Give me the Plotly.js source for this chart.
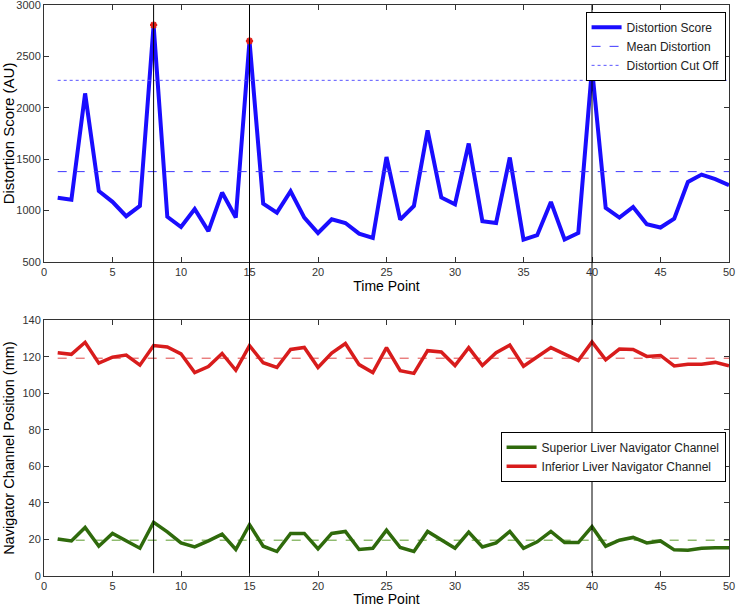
<!DOCTYPE html>
<html>
<head>
<meta charset="utf-8">
<script src="https://cdn.plot.ly/plotly-3.0.1.min.js"></script>
<style>
  html, body { margin: 0; padding: 0; background: #fff; }
  #chart { width: 738px; height: 607px; }
</style>
</head>
<body>
<div id="chart"></div>
<script>
const timePoints = [1, 2, 3, 4, 5, 6, 7, 8, 9, 10, 11, 12, 13, 14, 15, 16, 17, 18, 19, 20,
  21, 22, 23, 24, 25, 26, 27, 28, 29, 30, 31, 32, 33, 34, 35, 36, 37, 38, 39, 40,
  41, 42, 43, 44, 45, 46, 47, 48, 49, 50];

const distortionScore = [1125, 1105, 2140, 1190, 1085, 945, 1045, 2805, 940, 840,
  1015, 800, 1175, 932, 2650, 1068, 980, 1188, 932, 782,
  915, 879, 776, 733, 1521, 912, 1045, 1781, 1127, 1061,
  1652, 896, 879, 1516, 718, 760, 1084, 718, 782, 2385,
  1025, 932, 1035, 867, 835, 922, 1278, 1350, 1305, 1246];

const meanDistortion = 1379;
const distortionCutOff = 2267;

const peakTimes = [8, 15, 40];
const peakScores = [2805, 2650, 2385];

const superiorChannel = [20.3, 19.2, 26.6, 16.3, 23.3, 19.2, 15.2, 29.4, 24.2, 18.1,
  15.9, 19.2, 22.9, 14.5, 28.1, 16.3, 13.4, 23.3, 23.3, 14.8,
  23.3, 24.4, 14.5, 15.2, 25.1, 15.6, 13.4, 24.4, 20.0, 15.2,
  24.0, 15.9, 18.1, 24.4, 15.2, 18.7, 24.4, 18.3, 18.3, 27.0,
  16.3, 19.6, 21.1, 18.1, 19.2, 14.3, 14.1, 15.2, 15.4, 15.4];

const inferiorChannel = [122.2, 121.3, 127.9, 116.5, 119.8, 120.9, 115.4, 126.1, 125.3, 121.6,
  111.3, 114.6, 121.8, 112.6, 126.1, 116.7, 114.1, 124.0, 125.1, 114.1,
  122.0, 127.2, 115.7, 111.3, 125.0, 112.4, 110.9, 123.3, 122.6, 115.2,
  125.0, 115.2, 122.2, 126.4, 114.8, 120.0, 125.0, 121.4, 117.9, 128.1,
  118.3, 124.2, 124.0, 120.2, 120.7, 115.0, 115.9, 115.9, 116.9, 115.0];

const superiorMean = 19.6;
const inferiorMean = 119.2;

const markedTimes = [8, 15, 40];

const FONT = "Liberation Sans, Arial, sans-serif";
const first = timePoints[0];
const last = timePoints[timePoints.length - 1];

const traces = [
  {
    type: "scatter", mode: "lines",
    x: timePoints, y: distortionScore,
    name: "Distortion Score",
    line: { color: "#1a0dff", width: 4 },
    xaxis: "x", yaxis: "y", legend: "legend",
  },
  {
    type: "scatter", mode: "lines",
    x: [first, last], y: [meanDistortion, meanDistortion],
    name: "Mean Distortion",
    line: { color: "#3d35ff", width: 1, dash: "dash" },
    xaxis: "x", yaxis: "y", legend: "legend",
  },
  {
    type: "scatter", mode: "lines",
    x: [first, last], y: [distortionCutOff, distortionCutOff],
    name: "Distortion Cut Off",
    line: { color: "#5a55ff", width: 1, dash: "dot" },
    xaxis: "x", yaxis: "y", legend: "legend",
  },
  {
    type: "scatter", mode: "markers",
    x: peakTimes, y: peakScores,
    marker: { symbol: "asterisk-open", size: 6, color: "#e0201a", line: { color: "#e0201a", width: 2 } },
    showlegend: false, hoverinfo: "skip",
    xaxis: "x", yaxis: "y",
  },
  {
    type: "scatter", mode: "lines",
    x: [first, last], y: [superiorMean, superiorMean],
    line: { color: "#5a9a2a", width: 1, dash: "dash" },
    showlegend: false, xaxis: "x2", yaxis: "y2",
  },
  {
    type: "scatter", mode: "lines",
    x: [first, last], y: [inferiorMean, inferiorMean],
    line: { color: "#e04545", width: 1, dash: "dash" },
    showlegend: false, xaxis: "x2", yaxis: "y2",
  },
  {
    type: "scatter", mode: "lines",
    x: timePoints, y: superiorChannel,
    name: "Superior Liver Navigator Channel",
    line: { color: "#2f6a0c", width: 3.5 },
    xaxis: "x2", yaxis: "y2", legend: "legend2",
  },
  {
    type: "scatter", mode: "lines",
    x: timePoints, y: inferiorChannel,
    name: "Inferior Liver Navigator Channel",
    line: { color: "#d81c1c", width: 3.5 },
    xaxis: "x2", yaxis: "y2", legend: "legend2",
  },
];

const axisBase = {
  showline: true, mirror: "allticks", linecolor: "#333", linewidth: 1,
  ticks: "inside", ticklen: 5, tickcolor: "#333",
  showgrid: false, zeroline: false,
  ticklabeloverflow: "allow",
  tickfont: { family: FONT, size: 11, color: "#333" },
};

const shapes = markedTimes.map((t) => ({
  type: "line", xref: "x", yref: "paper",
  x0: t, x1: t, y0: 0.005, y1: 1,
  line: { color: "#000", width: 1 },
}));

const legendBase = {
  xanchor: "right", yanchor: "top",
  bgcolor: "#fff", bordercolor: "#000", borderwidth: 1,
  font: { family: FONT, size: 12, color: "#222" },
  itemwidth: 30, tracegroupgap: 0,
};

const layout = {
  width: 738, height: 607,
  margin: { l: 44, r: 9, t: 5, b: 31 },
  paper_bgcolor: "#fff", plot_bgcolor: "#fff",
  font: { family: FONT, color: "#000" },
  xaxis: {
    ...axisBase, domain: [0, 1], anchor: "y",
    range: [0, 50], tickvals: [0, 5, 10, 15, 20, 25, 30, 35, 40, 45, 50],
    title: { text: "Time Point", font: { family: FONT, size: 14, color: "#000" }, standoff: 2 },
  },
  yaxis: {
    ...axisBase, domain: [0.55, 1], anchor: "x",
    range: [500, 3000], tickvals: [500, 1000, 1500, 2000, 2500, 3000],
    title: { text: "Distortion Score (AU)", font: { family: FONT, size: 15, color: "#000" }, standoff: 4 },
  },
  xaxis2: {
    ...axisBase, domain: [0, 1], anchor: "y2",
    range: [0, 50], tickvals: [0, 5, 10, 15, 20, 25, 30, 35, 40, 45, 50],
    title: { text: "Time Point", font: { family: FONT, size: 14, color: "#000" }, standoff: 2 },
  },
  yaxis2: {
    ...axisBase, domain: [0, 0.448], anchor: "x2",
    range: [0, 140], tickvals: [0, 20, 40, 60, 80, 100, 120, 140],
    title: { text: "Navigator Channel Position (mm)", font: { family: FONT, size: 14.5, color: "#000" }, standoff: 4 },
  },
  legend: { ...legendBase, x: 0.995, y: 0.988 },
  legend2: { ...legendBase, x: 0.995, y: 0.2527 },
  shapes: shapes,
  showlegend: true,
};

Plotly.newPlot("chart", traces, layout, { displayModeBar: false, staticPlot: true });
</script>
</body>
</html>
